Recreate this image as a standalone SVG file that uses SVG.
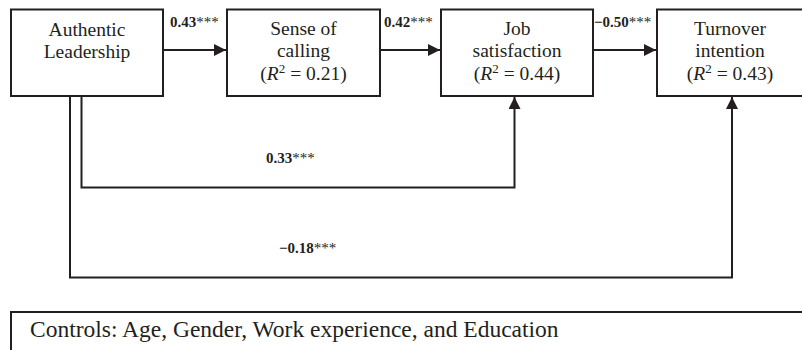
<svg xmlns="http://www.w3.org/2000/svg" width="802" height="350" viewBox="0 0 802 350">
<style>
.box{fill:#fff;stroke:#231f20;stroke-width:2}
.t{font-family:"Liberation Serif","Times New Roman",Times,"DejaVu Serif",serif;font-size:19.5px;fill:#231f20;text-anchor:middle}
.lbl{font-family:"Liberation Serif","Times New Roman",Times,"DejaVu Serif",serif;font-size:15px;font-weight:bold;fill:#231f20}
.ast{font-weight:normal}
.ctl{font-family:"Liberation Serif","Times New Roman",Times,"DejaVu Serif",serif;font-size:23.5px;fill:#231f20}
.c{fill:none;stroke:#231f20;stroke-width:2}
</style>
<defs>
<marker id="ah" markerUnits="userSpaceOnUse" markerWidth="13" markerHeight="12" refX="12" refY="6" orient="auto">
<path d="M0,0 L12,6 L0,12 Z" fill="#231f20"/>
</marker>
</defs>
<rect width="802" height="350" fill="#fff"/>
<g id="connectors">
<line class="c" x1="163" y1="50" x2="226" y2="50" marker-end="url(#ah)"/>
<line class="c" x1="380" y1="50" x2="440" y2="50" marker-end="url(#ah)"/>
<line class="c" x1="593" y1="50" x2="656" y2="50" marker-end="url(#ah)"/>
<path class="c" d="M81.5,96 V187.5 H514.5 V97" marker-end="url(#ah)"/>
<path class="c" d="M70,96 V277.5 H732 V97" marker-end="url(#ah)"/>
<text class="lbl" x="170" y="27">0.43<tspan class="ast">***</tspan></text>
<text class="lbl" x="384" y="27">0.42<tspan class="ast">***</tspan></text>
<text class="lbl" x="594" y="27">−0.50<tspan class="ast">***</tspan></text>
<text class="lbl" x="266" y="163">0.33<tspan class="ast">***</tspan></text>
<text class="lbl" x="279" y="253">−0.18<tspan class="ast">***</tspan></text>
</g>
<g id="authentic-leadership">
<rect class="box" x="11" y="9.5" width="152" height="86.5"/>
<text class="t" x="87" y="36">Authentic</text>
<text class="t" x="87" y="58">Leadership</text>
</g>
<g id="sense-of-calling">
<rect class="box" x="227" y="9.5" width="153" height="86.5"/>
<text class="t" x="303.5" y="35">Sense of</text>
<text class="t" x="303.5" y="57">calling</text>
<text class="t" x="303.5" y="80">(<tspan font-style="italic">R</tspan><tspan dy="-7" font-size="13">2</tspan><tspan dy="7"> = 0.21)</tspan></text>
</g>
<g id="job-satisfaction">
<rect class="box" x="441" y="9.5" width="152" height="86.5"/>
<text class="t" x="517" y="35">Job</text>
<text class="t" x="517" y="57">satisfaction</text>
<text class="t" x="517" y="80">(<tspan font-style="italic">R</tspan><tspan dy="-7" font-size="13">2</tspan><tspan dy="7"> = 0.44)</tspan></text>
</g>
<g id="turnover-intention">
<rect class="box" x="657" y="9.5" width="146" height="86.5"/>
<text class="t" x="730" y="35">Turnover</text>
<text class="t" x="730" y="57">intention</text>
<text class="t" x="730" y="80">(<tspan font-style="italic">R</tspan><tspan dy="-7" font-size="13">2</tspan><tspan dy="7"> = 0.43)</tspan></text>
</g>
<g id="controls">
<rect class="box" x="11" y="312" width="800" height="50"/>
<text class="ctl" x="30" y="337">Controls: Age, Gender, Work experience, and Education</text>
</g>
</svg>
